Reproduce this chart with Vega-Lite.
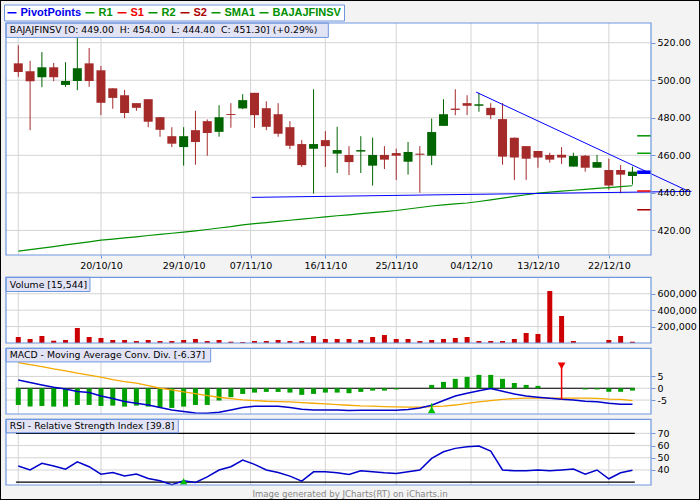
{
  "$schema": "https://vega.github.io/schema/vega-lite/v6.json",
  "width": 700,
  "height": 500,
  "autosize": {"type": "none"},
  "padding": 0,
  "background": "#f3f3f3",
  "title": {"text": "Image generated by JCharts(RT) on iCharts.in", "orient": "bottom", "anchor": "middle", "frame": "group", "offset": -10, "baseline": "top", "font": "DejaVu Sans", "fontSize": 8.6, "fontWeight": "normal", "color": "#888888"},
  "datasets": {
    "candles": [
      {"i":0,"o":509.0,"h":518.6,"l":501.8,"c":504.4,"vol":73000,"sma":409.0,"macd":3.53,"sig":10.87,"hist":-7.07,"rsi":43.2},
      {"i":1,"o":504.8,"h":510.3,"l":473.4,"c":499.5,"vol":48700,"sma":409.8,"macd":2.40,"sig":10.0,"hist":-7.77,"rsi":40.0},
      {"i":2,"o":501.6,"h":515.0,"l":496.3,"c":506.9,"vol":85000,"sma":410.6,"macd":1.41,"sig":9.19,"hist":-7.5,"rsi":45.4},
      {"i":3,"o":506.9,"h":509.2,"l":499.5,"c":501.6,"vol":28000,"sma":411.4,"macd":0.42,"sig":8.2,"hist":-7.77,"rsi":43.2},
      {"i":4,"o":497.5,"h":509.6,"l":496.5,"c":499.6,"vol":36500,"sma":412.3,"macd":-0.28,"sig":7.35,"hist":-7.77,"rsi":40.7},
      {"i":5,"o":499.6,"h":524.0,"l":494.7,"c":506.4,"vol":182600,"sma":413.1,"macd":-1.41,"sig":6.36,"hist":-7.07,"rsi":46.7},
      {"i":6,"o":509.0,"h":517.2,"l":496.5,"c":499.6,"vol":73000,"sma":413.9,"macd":-1.84,"sig":5.51,"hist":-7.07,"rsi":42.7},
      {"i":7,"o":505.3,"h":507.6,"l":481.4,"c":488.0,"vol":61000,"sma":414.8,"macd":-3.25,"sig":4.66,"hist":-7.5,"rsi":36.6},
      {"i":8,"o":495.7,"h":495.7,"l":484.8,"c":490.6,"vol":36500,"sma":415.4,"macd":-4.38,"sig":3.67,"hist":-7.35,"rsi":38.0},
      {"i":9,"o":492.0,"h":494.9,"l":479.8,"c":482.6,"vol":36500,"sma":416.0,"macd":-5.65,"sig":2.82,"hist":-7.77,"rsi":35.0},
      {"i":10,"o":487.8,"h":487.8,"l":483.7,"c":485.3,"vol":24000,"sma":416.6,"macd":-6.36,"sig":2.12,"hist":-7.35,"rsi":36.6},
      {"i":11,"o":489.9,"h":489.9,"l":475.0,"c":477.9,"vol":36500,"sma":417.3,"macd":-7.06,"sig":1.13,"hist":-7.77,"rsi":33.1},
      {"i":12,"o":480.3,"h":480.3,"l":469.9,"c":473.6,"vol":24000,"sma":417.9,"macd":-8.19,"sig":0.0,"hist":-8.05,"rsi":31.2},
      {"i":13,"o":470.2,"h":475.0,"l":464.4,"c":466.2,"vol":24000,"sma":418.5,"macd":-9.18,"sig":-0.7,"hist":-8.33,"rsi":28.0},
      {"i":14,"o":464.4,"h":475.0,"l":454.5,"c":470.2,"vol":36500,"sma":419.1,"macd":-9.89,"sig":-1.55,"hist":-7.77,"rsi":31.2},
      {"i":15,"o":473.4,"h":483.7,"l":455.0,"c":467.1,"vol":48700,"sma":419.8,"macd":-10.5,"sig":-2.26,"hist":-7.07,"rsi":29.8},
      {"i":16,"o":478.2,"h":479.1,"l":459.8,"c":471.9,"vol":24000,"sma":420.5,"macd":-10.6,"sig":-3.1,"hist":-7.07,"rsi":34.4},
      {"i":17,"o":472.5,"h":486.7,"l":469.9,"c":480.3,"vol":36500,"sma":421.3,"macd":-10.17,"sig":-3.81,"hist":-5.2,"rsi":40.0},
      {"i":18,"o":482.0,"h":487.8,"l":474.7,"c":481.5,"vol":16000,"sma":422.0,"macd":-9.18,"sig":-4.38,"hist":-3.8,"rsi":42.7},
      {"i":19,"o":485.0,"h":492.6,"l":484.6,"c":489.4,"vol":12000,"sma":422.9,"macd":-8.19,"sig":-4.94,"hist":-2.4,"rsi":48.1},
      {"i":20,"o":493.3,"h":493.3,"l":474.7,"c":481.4,"vol":24000,"sma":423.6,"macd":-7.63,"sig":-5.23,"hist":-1.84,"rsi":44.6},
      {"i":21,"o":485.1,"h":488.8,"l":473.4,"c":475.2,"vol":24000,"sma":424.2,"macd":-7.63,"sig":-5.51,"hist":-1.55,"rsi":40.0},
      {"i":22,"o":481.9,"h":487.8,"l":469.9,"c":471.5,"vol":36500,"sma":424.8,"macd":-7.63,"sig":-5.65,"hist":-1.55,"rsi":38.0},
      {"i":23,"o":475.0,"h":478.2,"l":463.3,"c":465.1,"vol":24000,"sma":425.4,"macd":-8.19,"sig":-5.79,"hist":-1.84,"rsi":35.0},
      {"i":24,"o":466.0,"h":468.1,"l":453.8,"c":454.8,"vol":24000,"sma":426.0,"macd":-8.9,"sig":-6.07,"hist":-2.8,"rsi":30.9},
      {"i":25,"o":463.5,"h":495.2,"l":439.6,"c":466.0,"vol":85000,"sma":426.6,"macd":-9.18,"sig":-6.36,"hist":-2.4,"rsi":38.5},
      {"i":26,"o":468.1,"h":472.9,"l":453.8,"c":464.9,"vol":48700,"sma":427.2,"macd":-9.18,"sig":-6.64,"hist":-1.84,"rsi":38.5},
      {"i":27,"o":460.9,"h":475.2,"l":450.6,"c":462.8,"vol":48700,"sma":427.8,"macd":-9.18,"sig":-6.92,"hist":-1.84,"rsi":37.7},
      {"i":28,"o":460.2,"h":464.9,"l":449.5,"c":456.4,"vol":48700,"sma":428.3,"macd":-9.46,"sig":-7.2,"hist":-2.1,"rsi":36.4},
      {"i":29,"o":462.0,"h":470.2,"l":450.6,"c":462.8,"vol":36500,"sma":428.9,"macd":-9.3,"sig":-7.48,"hist":-1.55,"rsi":39.3},
      {"i":30,"o":454.5,"h":469.4,"l":443.9,"c":460.2,"vol":73000,"sma":429.5,"macd":-9.3,"sig":-7.6,"hist":-1.0,"rsi":38.5},
      {"i":31,"o":460.2,"h":464.9,"l":452.7,"c":457.7,"vol":97000,"sma":430.0,"macd":-9.3,"sig":-7.8,"hist":-1.0,"rsi":37.7},
      {"i":32,"o":461.2,"h":463.5,"l":446.9,"c":459.8,"vol":48700,"sma":430.6,"macd":-9.3,"sig":-7.9,"hist":-0.5,"rsi":37.2},
      {"i":33,"o":456.6,"h":467.1,"l":449.7,"c":461.8,"vol":48700,"sma":431.4,"macd":-9.0,"sig":-8.0,"hist":0,"rsi":38.5},
      {"i":34,"o":460.9,"h":464.9,"l":440.1,"c":460.3,"vol":24000,"sma":432.2,"macd":-8.4,"sig":-8.0,"hist":0,"rsi":40.0},
      {"i":35,"o":459.8,"h":479.6,"l":454.8,"c":472.4,"vol":36500,"sma":433.0,"macd":-7.2,"sig":-7.8,"hist":1.41,"rsi":49.5},
      {"i":36,"o":475.7,"h":489.9,"l":475.7,"c":481.9,"vol":48700,"sma":433.6,"macd":-5.2,"sig":-7.6,"hist":2.69,"rsi":54.9},
      {"i":37,"o":484.9,"h":495.2,"l":481.4,"c":484.2,"vol":61000,"sma":434.1,"macd":-3.3,"sig":-7.1,"hist":3.96,"rsi":57.7},
      {"i":38,"o":487.8,"h":492.0,"l":481.4,"c":486.4,"vol":73000,"sma":434.6,"macd":-2.1,"sig":-6.4,"hist":4.8,"rsi":59.0},
      {"i":39,"o":486.4,"h":493.3,"l":483.2,"c":487.2,"vol":24000,"sma":435.4,"macd":-1.1,"sig":-5.8,"hist":5.65,"rsi":59.6},
      {"i":40,"o":485.3,"h":487.8,"l":479.3,"c":481.4,"vol":24000,"sma":436.3,"macd":-0.1,"sig":-5.2,"hist":5.65,"rsi":55.5},
      {"i":41,"o":479.3,"h":487.8,"l":455.0,"c":459.3,"vol":24000,"sma":437.2,"macd":-1.3,"sig":-4.7,"hist":3.96,"rsi":40.0},
      {"i":42,"o":469.4,"h":469.5,"l":446.9,"c":458.8,"vol":48700,"sma":438.1,"macd":-2.4,"sig":-4.4,"hist":2.27,"rsi":39.3},
      {"i":43,"o":464.9,"h":464.9,"l":446.9,"c":458.2,"vol":122000,"sma":439.0,"macd":-3.3,"sig":-4.2,"hist":1.41,"rsi":39.3},
      {"i":44,"o":462.3,"h":462.3,"l":453.4,"c":458.8,"vol":110000,"sma":439.9,"macd":-3.8,"sig":-4.2,"hist":1.0,"rsi":40.0},
      {"i":45,"o":460.2,"h":461.4,"l":456.1,"c":457.7,"vol":633000,"sma":440.4,"macd":-4.2,"sig":-4.2,"hist":0,"rsi":39.3},
      {"i":46,"o":460.3,"h":464.4,"l":455.4,"c":458.8,"vol":329000,"sma":440.9,"macd":-4.7,"sig":-4.2,"hist":0,"rsi":40.0},
      {"i":47,"o":454.0,"h":461.4,"l":454.0,"c":459.6,"vol":24000,"sma":441.4,"macd":-5.0,"sig":-4.2,"hist":0,"rsi":40.8},
      {"i":48,"o":459.8,"h":460.2,"l":451.3,"c":453.4,"vol":0,"sma":441.9,"macd":-5.5,"sig":-4.2,"hist":-0.5,"rsi":36.6},
      {"i":49,"o":453.4,"h":460.2,"l":453.4,"c":456.4,"vol":0,"sma":442.4,"macd":-5.7,"sig":-4.3,"hist":-0.5,"rsi":40.0},
      {"i":50,"o":452.2,"h":458.2,"l":441.7,"c":443.9,"vol":36500,"sma":442.8,"macd":-6.4,"sig":-4.6,"hist":-1.5,"rsi":32.8},
      {"i":51,"o":452.2,"h":454.8,"l":439.8,"c":449.7,"vol":85000,"sma":443.3,"macd":-6.8,"sig":-4.7,"hist":-1.5,"rsi":37.7},
      {"i":52,"o":449.0,"h":454.0,"l":444.4,"c":451.3,"vol":15544,"sma":443.8,"macd":-6.8,"sig":-5.2,"hist":-1.0,"rsi":39.8}
    ],
    "vgrid": [{"g":0},{"g":7},{"g":14},{"g":19.667},{"g":26},{"g":32},{"g":38.333},{"g":44},{"g":50}],
    "trend": [
      {"line":"down","i":38.76,"v":493.7},{"line":"down","i":56.7,"v":441.0},
      {"line":"support","i":19.76,"v":437.6},{"line":"support","i":57.0,"v":440.8}
    ],
    "pivots": [
      {"series":"R2","v":470.4},{"series":"R1","v":461.1},{"series":"PivotPoints","v":451.0},{"series":"S1","v":441.0},{"series":"S2","v":431.0}
    ],
    "signals": [
      {"panel":"macd","i":46,"kind":"sell","v":9.5,"v0":-4.7},
      {"panel":"macd","i":35,"kind":"buy","v":-9.2,"v0":-6.4},
      {"panel":"rsi","i":14,"kind":"buy","v":30.7,"v0":30.7}
    ]
  },
  "layer": [
    {
      "layer": [
        {"data": {"values": [{}]}, "mark": {"type": "rect", "fill": "#ffffff"},
         "encoding": {"x": {"datum": -1.04, "type": "quantitative", "scale": {"domain": [-1.04, 53.57], "range": [6, 651], "nice": false, "zero": false, "padding": 0}}, "x2": {"datum": 53.57},
                      "y": {"datum": 406.9, "type": "quantitative", "scale": {"domain": [406.9, 530.5], "range": [255, 23], "nice": false, "zero": false, "padding": 0}}, "y2": {"datum": 530.5}}},
        {"data": {"values": [{"v":420},{"v":440},{"v":460},{"v":480},{"v":500},{"v":520}]}, "mark": {"type": "rule", "color": "#d4d4d4"},
         "encoding": {"x": {"datum": -1.04, "type": "quantitative", "scale": {"domain": [-1.04, 53.57], "range": [6, 651], "nice": false, "zero": false, "padding": 0}}, "x2": {"datum": 53.57},
                      "y": {"field": "v", "type": "quantitative", "scale": {"domain": [406.9, 530.5], "range": [255, 23], "nice": false, "zero": false, "padding": 0},
                            "axis": {"orient": "right", "offset": -49, "zindex": 2, "values": [420,440,460,480,500,520], "labelExpr": "format(datum.value, '.2f')", "tickSize": 4, "labelPadding": 2, "title": null, "grid": false, "domain": false}}}},
        {"data": {"name": "vgrid"}, "mark": {"type": "rule", "color": "#d4d4d4"},
         "encoding": {"x": {"field": "g", "type": "quantitative", "scale": {"domain": [-1.04, 53.57], "range": [6, 651], "nice": false, "zero": false, "padding": 0}},
                      "y": {"datum": 406.9, "type": "quantitative", "scale": {"domain": [406.9, 530.5], "range": [255, 23], "nice": false, "zero": false, "padding": 0}}, "y2": {"datum": 530.5}}},
        {"data": {"name": "candles"}, "mark": {"type": "rule", "strokeWidth": 1},
         "encoding": {"x": {"field": "i", "type": "quantitative", "scale": {"domain": [-1.04, 53.57], "range": [6, 651], "nice": false, "zero": false, "padding": 0},
                            "axis": {"orient": "bottom", "offset": -245, "zindex": 2, "values": [7,14,19.667,26,32,38.333,44,50], "labelExpr": "datum.value < 10 ? '20/10/10' : datum.value < 17 ? '29/10/10' : datum.value < 23 ? '07/11/10' : datum.value < 29 ? '16/11/10' : datum.value < 35 ? '25/11/10' : datum.value < 41 ? '04/12/10' : datum.value < 47 ? '13/12/10' : '22/12/10'", "tickSize": 3, "labelPadding": 2, "labelFlush": false, "labelOverlap": false, "domain": false, "grid": false, "title": null}},
                      "y": {"field": "l", "type": "quantitative", "scale": {"domain": [406.9, 530.5], "range": [255, 23], "nice": false, "zero": false, "padding": 0}}, "y2": {"field": "h"},
                      "color": {"condition": {"test": "datum.c >= datum.o", "value": "#006400"}, "value": "#a52a2a"}}},
        {"data": {"name": "candles"}, "mark": {"type": "bar", "width": 9},
         "encoding": {"x": {"field": "i", "type": "quantitative", "scale": {"domain": [-1.04, 53.57], "range": [6, 651], "nice": false, "zero": false, "padding": 0}},
                      "y": {"field": "o", "type": "quantitative", "scale": {"domain": [406.9, 530.5], "range": [255, 23], "nice": false, "zero": false, "padding": 0}}, "y2": {"field": "c"},
                      "color": {"condition": {"test": "datum.c >= datum.o", "value": "#006400"}, "value": "#a52a2a"}}},
        {"data": {"name": "candles"}, "mark": {"type": "line", "color": "#009000", "strokeWidth": 1.2},
         "encoding": {"x": {"field": "i", "type": "quantitative", "scale": {"domain": [-1.04, 53.57], "range": [6, 651], "nice": false, "zero": false, "padding": 0}},
                      "y": {"field": "sma", "type": "quantitative", "scale": {"domain": [406.9, 530.5], "range": [255, 23], "nice": false, "zero": false, "padding": 0}}}},
        {"data": {"name": "trend"}, "mark": {"type": "line", "color": "#0000ff", "strokeWidth": 1, "clip": false},
         "encoding": {"x": {"field": "i", "type": "quantitative", "scale": {"domain": [-1.04, 53.57], "range": [6, 651], "nice": false, "zero": false, "padding": 0}},
                      "y": {"field": "v", "type": "quantitative", "scale": {"domain": [406.9, 530.5], "range": [255, 23], "nice": false, "zero": false, "padding": 0}},
                      "detail": {"field": "line"}}},
        {"data": {"name": "pivots"}, "mark": {"type": "rule"},
         "encoding": {"x": {"datum": 52.4, "type": "quantitative", "scale": {"domain": [-1.04, 53.57], "range": [6, 651], "nice": false, "zero": false, "padding": 0}}, "x2": {"datum": 53.57},
                      "y": {"field": "v", "type": "quantitative", "scale": {"domain": [406.9, 530.5], "range": [255, 23], "nice": false, "zero": false, "padding": 0}},
                      "strokeWidth": {"condition": {"test": "datum.series === 'PivotPoints'", "value": 3.5}, "value": 1.5},
                      "color": {"field": "series", "type": "nominal",
                                "scale": {"domain": ["PivotPoints","R1","S1","R2","S2","SMA1","BAJAJFINSV"], "range": ["#0000ff","#00a000","#ee0000","#009000","#aa0000","#009000","#009000"]},
                                "legend": {"orient": "none", "legendX": 4, "legendY": 4.5, "direction": "horizontal", "columns": 7, "title": null,
                                           "symbolType": "stroke", "symbolSize": 81, "symbolStrokeWidth": 1.5, "labelFont": "Liberation Sans", "labelFontSize": 11, "labelFontWeight": "bold",
                                           "labelOffset": 3, "columnPadding": 1, "padding": 2.5, "fillColor": "#ffffff", "strokeColor": "#6f97e0", "labelLimit": 200,
                                           "labelColor": {"expr": "datum.value === 'PivotPoints' ? '#0000ee' : datum.value === 'S1' ? '#ee0000' : datum.value === 'S2' ? '#aa0000' : '#009000'"}}}}},
        {"data": {"values": [{}]}, "mark": {"type": "rect", "fill": "#e3e3f6", "stroke": "#6f97e0", "strokeWidth": 1},
         "encoding": {"x": {"datum": -1.04, "type": "quantitative", "scale": {"domain": [-1.04, 53.57], "range": [6, 651], "nice": false, "zero": false, "padding": 0}}, "x2": {"datum": 26.25},
                      "y": {"datum": 522.8, "type": "quantitative", "scale": {"domain": [406.9, 530.5], "range": [255, 23], "nice": false, "zero": false, "padding": 0}}, "y2": {"datum": 530.5}}},
        {"data": {"values": [{}]}, "mark": {"type": "text", "align": "left", "baseline": "middle", "font": "DejaVu Sans", "fontSize": 9.3, "color": "#000000"},
         "encoding": {"x": {"datum": -0.72, "type": "quantitative", "scale": {"domain": [-1.04, 53.57], "range": [6, 651], "nice": false, "zero": false, "padding": 0}},
                      "y": {"datum": 526.6, "type": "quantitative", "scale": {"domain": [406.9, 530.5], "range": [255, 23], "nice": false, "zero": false, "padding": 0}},
                      "text": {"value": "BAJAJFINSV [O: 449.00 \u00a0H: 454.00 \u00a0L: 444.40 \u00a0C: 451.30] (+0.29%)"}}},
        {"data": {"values": [{}]}, "mark": {"type": "rect", "fill": null, "fillOpacity": 0, "stroke": "#6f97e0", "strokeWidth": 1.2},
         "encoding": {"x": {"datum": -1.04, "type": "quantitative", "scale": {"domain": [-1.04, 53.57], "range": [6, 651], "nice": false, "zero": false, "padding": 0}}, "x2": {"datum": 53.57},
                      "y": {"datum": 406.9, "type": "quantitative", "scale": {"domain": [406.9, 530.5], "range": [255, 23], "nice": false, "zero": false, "padding": 0}}, "y2": {"datum": 530.5}}}
      ]
    },
    {
      "layer": [
        {"data": {"values": [{}]}, "mark": {"type": "rect", "fill": "#ffffff"},
         "encoding": {"x": {"datum": -1.04, "type": "quantitative", "scale": {"domain": [-1.04, 53.57], "range": [6, 651], "nice": false, "zero": false, "padding": 0}}, "x2": {"datum": 53.57},
                      "y": {"datum": 0, "type": "quantitative", "scale": {"domain": [0, 800000], "range": [343, 277.3], "nice": false, "padding": 0}}, "y2": {"datum": 800000}}},
        {"data": {"values": [{"v":200000},{"v":400000},{"v":600000}]}, "mark": {"type": "rule", "color": "#d4d4d4"},
         "encoding": {"x": {"datum": -1.04, "type": "quantitative", "scale": {"domain": [-1.04, 53.57], "range": [6, 651], "nice": false, "zero": false, "padding": 0}}, "x2": {"datum": 53.57},
                      "y": {"field": "v", "type": "quantitative", "scale": {"domain": [0, 800000], "range": [343, 277.3], "nice": false, "padding": 0},
                            "axis": {"orient": "right", "offset": -49, "zindex": 2, "values": [200000,400000,600000], "labelExpr": "format(datum.value, ',')", "tickSize": 4, "labelPadding": 2, "title": null, "grid": false, "domain": false}}}},
        {"data": {"name": "vgrid"}, "mark": {"type": "rule", "color": "#d4d4d4"},
         "encoding": {"x": {"field": "g", "type": "quantitative", "scale": {"domain": [-1.04, 53.57], "range": [6, 651], "nice": false, "zero": false, "padding": 0}},
                      "y": {"datum": 0, "type": "quantitative", "scale": {"domain": [0, 800000], "range": [343, 277.3], "nice": false, "padding": 0}}, "y2": {"datum": 800000}}},
        {"data": {"name": "candles"}, "mark": {"type": "bar", "width": 5, "color": "#cc0000"},
         "encoding": {"x": {"field": "i", "type": "quantitative", "scale": {"domain": [-1.04, 53.57], "range": [6, 651], "nice": false, "zero": false, "padding": 0}},
                      "y": {"field": "vol", "type": "quantitative", "scale": {"domain": [0, 800000], "range": [343, 277.3], "nice": false, "padding": 0}}}},
        {"data": {"values": [{}]}, "mark": {"type": "rect", "fill": "#e3e3f6", "stroke": "#6f97e0", "strokeWidth": 1},
         "encoding": {"x": {"datum": -1.04, "type": "quantitative", "scale": {"domain": [-1.04, 53.57], "range": [6, 651], "nice": false, "zero": false, "padding": 0}}, "x2": {"datum": 6.07},
                      "y": {"datum": 627000, "type": "quantitative", "scale": {"domain": [0, 800000], "range": [343, 277.3], "nice": false, "padding": 0}}, "y2": {"datum": 800000}}},
        {"data": {"values": [{}]}, "mark": {"type": "text", "align": "left", "baseline": "middle", "font": "DejaVu Sans", "fontSize": 9.3, "color": "#000000"},
         "encoding": {"x": {"datum": -0.72, "type": "quantitative", "scale": {"domain": [-1.04, 53.57], "range": [6, 651], "nice": false, "zero": false, "padding": 0}},
                      "y": {"datum": 712000, "type": "quantitative", "scale": {"domain": [0, 800000], "range": [343, 277.3], "nice": false, "padding": 0}},
                      "text": {"value": "Volume [15,544]"}}},
        {"data": {"values": [{}]}, "mark": {"type": "rect", "fill": null, "fillOpacity": 0, "stroke": "#6f97e0", "strokeWidth": 1.2},
         "encoding": {"x": {"datum": -1.04, "type": "quantitative", "scale": {"domain": [-1.04, 53.57], "range": [6, 651], "nice": false, "zero": false, "padding": 0}}, "x2": {"datum": 53.57},
                      "y": {"datum": 0, "type": "quantitative", "scale": {"domain": [0, 800000], "range": [343, 277.3], "nice": false, "padding": 0}}, "y2": {"datum": 800000}}}
      ]
    },
    {
      "layer": [
        {"data": {"values": [{}]}, "mark": {"type": "rect", "fill": "#ffffff"},
         "encoding": {"x": {"datum": -1.04, "type": "quantitative", "scale": {"domain": [-1.04, 53.57], "range": [6, 651], "nice": false, "zero": false, "padding": 0}}, "x2": {"datum": 53.57},
                      "y": {"datum": -10.9, "type": "quantitative", "scale": {"domain": [-10.9, 16.9], "range": [414, 348.3], "nice": false, "zero": false, "padding": 0}}, "y2": {"datum": 16.9}}},
        {"data": {"values": [{"v":-5},{"v":0},{"v":5}]}, "mark": {"type": "rule", "color": "#d4d4d4"},
         "encoding": {"x": {"datum": -1.04, "type": "quantitative", "scale": {"domain": [-1.04, 53.57], "range": [6, 651], "nice": false, "zero": false, "padding": 0}}, "x2": {"datum": 53.57},
                      "y": {"field": "v", "type": "quantitative", "scale": {"domain": [-10.9, 16.9], "range": [414, 348.3], "nice": false, "zero": false, "padding": 0},
                            "axis": {"orient": "right", "offset": -49, "zindex": 2, "values": [-5,0,5], "labelExpr": "datum.value < 0 ? '-' + (-datum.value) : '' + datum.value", "tickSize": 4, "labelPadding": 2, "title": null, "grid": false, "domain": false}}}},
        {"data": {"name": "vgrid"}, "mark": {"type": "rule", "color": "#d4d4d4"},
         "encoding": {"x": {"field": "g", "type": "quantitative", "scale": {"domain": [-1.04, 53.57], "range": [6, 651], "nice": false, "zero": false, "padding": 0}},
                      "y": {"datum": -10.9, "type": "quantitative", "scale": {"domain": [-10.9, 16.9], "range": [414, 348.3], "nice": false, "zero": false, "padding": 0}}, "y2": {"datum": 16.9}}},
        {"data": {"values": [{}]}, "mark": {"type": "rule", "color": "#000000", "strokeWidth": 1.2},
         "encoding": {"x": {"datum": -0.2, "type": "quantitative", "scale": {"domain": [-1.04, 53.57], "range": [6, 651], "nice": false, "zero": false, "padding": 0}}, "x2": {"datum": 52.2},
                      "y": {"datum": 0, "type": "quantitative", "scale": {"domain": [-10.9, 16.9], "range": [414, 348.3], "nice": false, "zero": false, "padding": 0}}}},
        {"data": {"name": "candles"}, "mark": {"type": "bar", "width": 5, "color": "#00a000"},
         "encoding": {"x": {"field": "i", "type": "quantitative", "scale": {"domain": [-1.04, 53.57], "range": [6, 651], "nice": false, "zero": false, "padding": 0}},
                      "y": {"field": "hist", "type": "quantitative", "scale": {"domain": [-10.9, 16.9], "range": [414, 348.3], "nice": false, "zero": false, "padding": 0}},
                      "y2": {"datum": 0}}},
        {"data": {"name": "candles"}, "mark": {"type": "line", "color": "#f5a800", "strokeWidth": 1.3},
         "encoding": {"x": {"field": "i", "type": "quantitative", "scale": {"domain": [-1.04, 53.57], "range": [6, 651], "nice": false, "zero": false, "padding": 0}},
                      "y": {"field": "sig", "type": "quantitative", "scale": {"domain": [-10.9, 16.9], "range": [414, 348.3], "nice": false, "zero": false, "padding": 0}}}},
        {"data": {"name": "candles"}, "mark": {"type": "line", "color": "#0000cc", "strokeWidth": 1.5},
         "encoding": {"x": {"field": "i", "type": "quantitative", "scale": {"domain": [-1.04, 53.57], "range": [6, 651], "nice": false, "zero": false, "padding": 0}},
                      "y": {"field": "macd", "type": "quantitative", "scale": {"domain": [-10.9, 16.9], "range": [414, 348.3], "nice": false, "zero": false, "padding": 0}}}},
        {"data": {"name": "signals"}, "transform": [{"filter": "datum.panel === 'macd'"}], "mark": {"type": "rule", "strokeWidth": 1.5},
         "encoding": {"x": {"field": "i", "type": "quantitative", "scale": {"domain": [-1.04, 53.57], "range": [6, 651], "nice": false, "zero": false, "padding": 0}},
                      "y": {"field": "v", "type": "quantitative", "scale": {"domain": [-10.9, 16.9], "range": [414, 348.3], "nice": false, "zero": false, "padding": 0}}, "y2": {"field": "v0"},
                      "color": {"condition": {"test": "datum.kind === 'sell'", "value": "#ee0000"}, "value": "#00c000"}}},
        {"data": {"name": "signals"}, "transform": [{"filter": "datum.panel === 'macd'"}], "mark": {"type": "point", "filled": true, "opacity": 1},
         "encoding": {"x": {"field": "i", "type": "quantitative", "scale": {"domain": [-1.04, 53.57], "range": [6, 651], "nice": false, "zero": false, "padding": 0}},
                      "y": {"field": "v", "type": "quantitative", "scale": {"domain": [-10.9, 16.9], "range": [414, 348.3], "nice": false, "zero": false, "padding": 0}},
                      "shape": {"condition": {"test": "datum.kind === 'sell'", "value": "triangle-down"}, "value": "triangle-up"},
                      "size": {"value": 60},
                      "color": {"condition": {"test": "datum.kind === 'sell'", "value": "#ee0000"}, "value": "#00c000"}}},
        {"data": {"values": [{}]}, "mark": {"type": "rect", "fill": "#e3e3f6", "stroke": "#6f97e0", "strokeWidth": 1},
         "encoding": {"x": {"datum": -1.04, "type": "quantitative", "scale": {"domain": [-1.04, 53.57], "range": [6, 651], "nice": false, "zero": false, "padding": 0}}, "x2": {"datum": 16.29},
                      "y": {"datum": 11.14, "type": "quantitative", "scale": {"domain": [-10.9, 16.9], "range": [414, 348.3], "nice": false, "zero": false, "padding": 0}}, "y2": {"datum": 16.9}}},
        {"data": {"values": [{}]}, "mark": {"type": "text", "align": "left", "baseline": "middle", "font": "DejaVu Sans", "fontSize": 9.3, "color": "#000000"},
         "encoding": {"x": {"datum": -0.72, "type": "quantitative", "scale": {"domain": [-1.04, 53.57], "range": [6, 651], "nice": false, "zero": false, "padding": 0}},
                      "y": {"datum": 14.1, "type": "quantitative", "scale": {"domain": [-10.9, 16.9], "range": [414, 348.3], "nice": false, "zero": false, "padding": 0}},
                      "text": {"value": "MACD - Moving Average Conv. Div. [-6.37]"}}},
        {"data": {"values": [{}]}, "mark": {"type": "rect", "fill": null, "fillOpacity": 0, "stroke": "#6f97e0", "strokeWidth": 1.2},
         "encoding": {"x": {"datum": -1.04, "type": "quantitative", "scale": {"domain": [-1.04, 53.57], "range": [6, 651], "nice": false, "zero": false, "padding": 0}}, "x2": {"datum": 53.57},
                      "y": {"datum": -10.9, "type": "quantitative", "scale": {"domain": [-10.9, 16.9], "range": [414, 348.3], "nice": false, "zero": false, "padding": 0}}, "y2": {"datum": 16.9}}}
      ]
    },
    {
      "layer": [
        {"data": {"values": [{}]}, "mark": {"type": "rect", "fill": "#ffffff"},
         "encoding": {"x": {"datum": -1.04, "type": "quantitative", "scale": {"domain": [-1.04, 53.57], "range": [6, 651], "nice": false, "zero": false, "padding": 0}}, "x2": {"datum": 53.57},
                      "y": {"datum": 27.7, "type": "quantitative", "scale": {"domain": [27.7, 81.5], "range": [485, 419.3], "nice": false, "zero": false, "padding": 0}}, "y2": {"datum": 81.5}}},
        {"data": {"values": [{"v":40},{"v":50},{"v":60},{"v":70}]}, "mark": {"type": "rule", "color": "#d4d4d4"},
         "encoding": {"x": {"datum": -1.04, "type": "quantitative", "scale": {"domain": [-1.04, 53.57], "range": [6, 651], "nice": false, "zero": false, "padding": 0}}, "x2": {"datum": 53.57},
                      "y": {"field": "v", "type": "quantitative", "scale": {"domain": [27.7, 81.5], "range": [485, 419.3], "nice": false, "zero": false, "padding": 0},
                            "axis": {"orient": "right", "offset": -49, "zindex": 2, "values": [40,50,60,70], "labelExpr": "'' + datum.value", "tickSize": 4, "labelPadding": 2, "title": null, "grid": false, "domain": false}}}},
        {"data": {"name": "vgrid"}, "mark": {"type": "rule", "color": "#d4d4d4"},
         "encoding": {"x": {"field": "g", "type": "quantitative", "scale": {"domain": [-1.04, 53.57], "range": [6, 651], "nice": false, "zero": false, "padding": 0}},
                      "y": {"datum": 27.7, "type": "quantitative", "scale": {"domain": [27.7, 81.5], "range": [485, 419.3], "nice": false, "zero": false, "padding": 0}}, "y2": {"datum": 81.5}}},
        {"data": {"values": [{"v":30},{"v":70}]}, "mark": {"type": "rule", "color": "#000000", "strokeWidth": 1.2},
         "encoding": {"x": {"datum": -0.2, "type": "quantitative", "scale": {"domain": [-1.04, 53.57], "range": [6, 651], "nice": false, "zero": false, "padding": 0}}, "x2": {"datum": 52.2},
                      "y": {"field": "v", "type": "quantitative", "scale": {"domain": [27.7, 81.5], "range": [485, 419.3], "nice": false, "zero": false, "padding": 0}}}},
        {"data": {"name": "candles"}, "mark": {"type": "line", "color": "#0000cc", "strokeWidth": 1.5},
         "encoding": {"x": {"field": "i", "type": "quantitative", "scale": {"domain": [-1.04, 53.57], "range": [6, 651], "nice": false, "zero": false, "padding": 0}},
                      "y": {"field": "rsi", "type": "quantitative", "scale": {"domain": [27.7, 81.5], "range": [485, 419.3], "nice": false, "zero": false, "padding": 0}}}},
        {"data": {"name": "signals"}, "transform": [{"filter": "datum.panel === 'rsi'"}], "mark": {"type": "point", "filled": true, "opacity": 1, "shape": "triangle-up", "size": 55, "color": "#00c000"},
         "encoding": {"x": {"field": "i", "type": "quantitative", "scale": {"domain": [-1.04, 53.57], "range": [6, 651], "nice": false, "zero": false, "padding": 0}},
                      "y": {"field": "v", "type": "quantitative", "scale": {"domain": [27.7, 81.5], "range": [485, 419.3], "nice": false, "zero": false, "padding": 0}}}},
        {"data": {"values": [{}]}, "mark": {"type": "rect", "fill": "#e3e3f6", "stroke": "#6f97e0", "strokeWidth": 1},
         "encoding": {"x": {"datum": -1.04, "type": "quantitative", "scale": {"domain": [-1.04, 53.57], "range": [6, 651], "nice": false, "zero": false, "padding": 0}}, "x2": {"datum": 13.55},
                      "y": {"datum": 70.5, "type": "quantitative", "scale": {"domain": [27.7, 81.5], "range": [485, 419.3], "nice": false, "zero": false, "padding": 0}}, "y2": {"datum": 81.5}}},
        {"data": {"values": [{}]}, "mark": {"type": "text", "align": "left", "baseline": "middle", "font": "DejaVu Sans", "fontSize": 9.3, "color": "#000000"},
         "encoding": {"x": {"datum": -0.72, "type": "quantitative", "scale": {"domain": [-1.04, 53.57], "range": [6, 651], "nice": false, "zero": false, "padding": 0}},
                      "y": {"datum": 76.0, "type": "quantitative", "scale": {"domain": [27.7, 81.5], "range": [485, 419.3], "nice": false, "zero": false, "padding": 0}},
                      "text": {"value": "RSI - Relative Strength Index [39.8]"}}},
        {"data": {"values": [{}]}, "mark": {"type": "rect", "fill": null, "fillOpacity": 0, "stroke": "#6f97e0", "strokeWidth": 1.2},
         "encoding": {"x": {"datum": -1.04, "type": "quantitative", "scale": {"domain": [-1.04, 53.57], "range": [6, 651], "nice": false, "zero": false, "padding": 0}}, "x2": {"datum": 53.57},
                      "y": {"datum": 27.7, "type": "quantitative", "scale": {"domain": [27.7, 81.5], "range": [485, 419.3], "nice": false, "zero": false, "padding": 0}}, "y2": {"datum": 81.5}}}
      ]
    }
  ],
  "resolve": {"scale": {"y": "independent"}, "axis": {"y": "independent"}},
  "config": {
    "view": {"fill": "#f3f3f3", "stroke": "#000000", "strokeWidth": 2},
    "axis": {"labelFont": "DejaVu Sans", "labelFontSize": 9.5, "labelColor": "#000000", "tickColor": "#6f97e0", "tickWidth": 1, "grid": false, "domain": false}
  }
}
